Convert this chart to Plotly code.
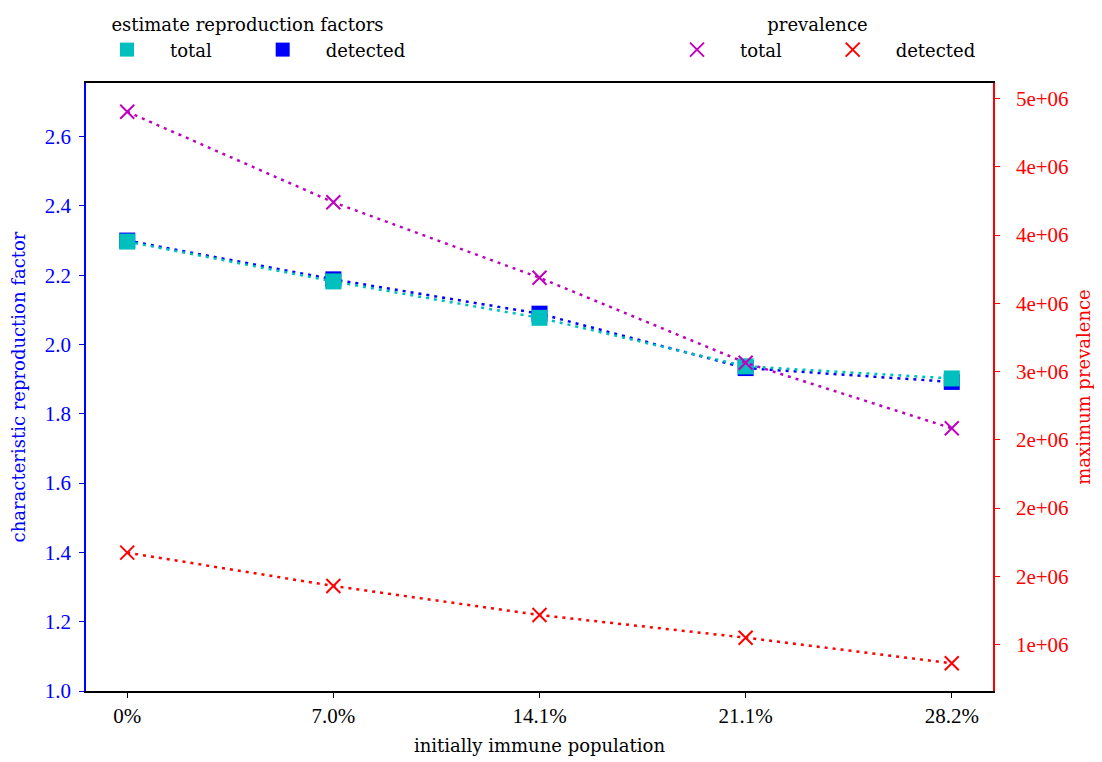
import plotly.graph_objects as go

# ---- data ----
categories = ["0%", "7.0%", "14.1%", "21.1%", "28.2%"]
repro_total = [2.297, 2.182, 2.077, 1.937, 1.902]
repro_detected = [2.300, 2.188, 2.089, 1.932, 1.892]
prev_total = [4.903e6, 4.240e6, 3.687e6, 3.064e6, 2.584e6]
prev_detected = [1.673e6, 1.429e6, 1.216e6, 1.050e6, 0.862e6]
left_ticks = [1.0, 1.2, 1.4, 1.6, 1.8, 2.0, 2.2, 2.4, 2.6]
right_tickvals = [1.0e6, 1.5e6, 2.0e6, 2.5e6, 3.0e6, 3.5e6, 4.0e6, 4.5e6, 5.0e6]
right_ticktext = ["1e+06", "2e+06", "2e+06", "2e+06", "3e+06", "4e+06", "4e+06", "4e+06", "5e+06"]

CYAN = "#00BFBF"
BLUE = "#0000FF"
MAGENTA = "#BF00BF"
RED = "#FF0000"
TFONT = "DejaVu Serif"
NFONT = "Liberation Serif"
TS = 18
NS = 21
DOT = "3px,5px"
PAD = "\u00a0" * 4

fig = go.Figure()

# data traces (no legend)
fig.add_trace(go.Scatter(x=categories, y=repro_detected, mode="lines+markers",
                         line=dict(color=BLUE, width=2.5, dash=DOT),
                         marker=dict(symbol="square", size=16, color=BLUE),
                         showlegend=False, yaxis="y"))
fig.add_trace(go.Scatter(x=categories, y=repro_total, mode="lines+markers",
                         line=dict(color=CYAN, width=2.5, dash=DOT),
                         marker=dict(symbol="square", size=16, color=CYAN),
                         showlegend=False, yaxis="y"))
fig.add_trace(go.Scatter(x=categories, y=prev_total, mode="lines+markers",
                         line=dict(color=MAGENTA, width=2.5, dash=DOT),
                         marker=dict(symbol="x-thin", size=14, line=dict(color=MAGENTA, width=2)),
                         showlegend=False, yaxis="y2"))
fig.add_trace(go.Scatter(x=categories, y=prev_detected, mode="lines+markers",
                         line=dict(color=RED, width=2.5, dash=DOT),
                         marker=dict(symbol="x-thin", size=14, line=dict(color=RED, width=2)),
                         showlegend=False, yaxis="y2"))

# legend-only entries
fig.add_trace(go.Scatter(x=[None], y=[None], mode="markers", name="total" + PAD,
                         marker=dict(symbol="square", size=14, color=CYAN), legend="legend", yaxis="y"))
fig.add_trace(go.Scatter(x=[None], y=[None], mode="markers", name="detected",
                         marker=dict(symbol="square", size=14, color=BLUE), legend="legend", yaxis="y"))
fig.add_trace(go.Scatter(x=[None], y=[None], mode="markers", name="total" + PAD,
                         marker=dict(symbol="x-thin", size=14, line=dict(color=MAGENTA, width=2)),
                         legend="legend2", yaxis="y2"))
fig.add_trace(go.Scatter(x=[None], y=[None], mode="markers", name="detected",
                         marker=dict(symbol="x-thin", size=14, line=dict(color=RED, width=2)),
                         legend="legend2", yaxis="y2"))

# page is offset by 8px body margin
W, H = 1094, 754
L, T = 78, 75
R = W - 985
B = H - 683

legend_common = dict(orientation="h", font=dict(family=TFONT, size=TS, color="black"),
                     bgcolor="rgba(0,0,0,0)", itemwidth=76,
                     xref="container", yref="container",
                     xanchor="left", yanchor="top", y=1.0)

fig.update_layout(
    width=W, height=H,
    margin=dict(l=L, r=R, t=T, b=B, pad=0, autoexpand=False),
    paper_bgcolor="white", plot_bgcolor="white",
    font=dict(family=TFONT, size=TS, color="black"),
    xaxis=dict(type="category", range=[-0.2, 4.2], showgrid=False, zeroline=False, automargin=False,
               showline=True, linecolor="black", linewidth=1.5, mirror=True,
               ticks="outside", ticklen=5, tickcolor="black",
               tickfont=dict(family=NFONT, size=NS, color="black"),
               title=dict(text="initially immune population", font=dict(family=TFONT, size=TS), standoff=12)),
    yaxis=dict(range=[1.0, 2.7547], tickvals=left_ticks, ticktext=[f"{v:.1f}" for v in left_ticks],
               showgrid=False, zeroline=False, automargin=False,
               showline=True, linecolor=BLUE, linewidth=1.5,
               ticks="outside", ticklen=5, tickcolor=BLUE, ticklabelstandoff=4,
               tickfont=dict(family=NFONT, size=NS, color=BLUE),
               title=dict(text="characteristic reproduction factor", font=dict(family=TFONT, size=TS, color=BLUE), standoff=18)),
    yaxis2=dict(range=[0.6593e6, 5.1136e6], overlaying="y", side="right",
                tickvals=right_tickvals, ticktext=right_ticktext,
                showgrid=False, zeroline=False, automargin=False,
                showline=True, linecolor=RED, linewidth=1.5,
                ticks="outside", ticklen=5, tickcolor=RED, ticklabelstandoff=12,
                tickfont=dict(family=NFONT, size=NS, color=RED),
                title=dict(text="maximum prevalence", font=dict(family=TFONT, size=TS, color=RED), standoff=10)),
    legend=dict(legend_common, x=(100 - 8 - 16) / W,
                title=dict(text="estimate reproduction factors", side="top center",
                           font=dict(family=TFONT, size=TS))),
    legend2=dict(legend_common, x=(670 - 8 - 16) / W,
                 title=dict(text="prevalence", side="top center",
                            font=dict(family=TFONT, size=TS))),
)

fig.write_html("out.html")
